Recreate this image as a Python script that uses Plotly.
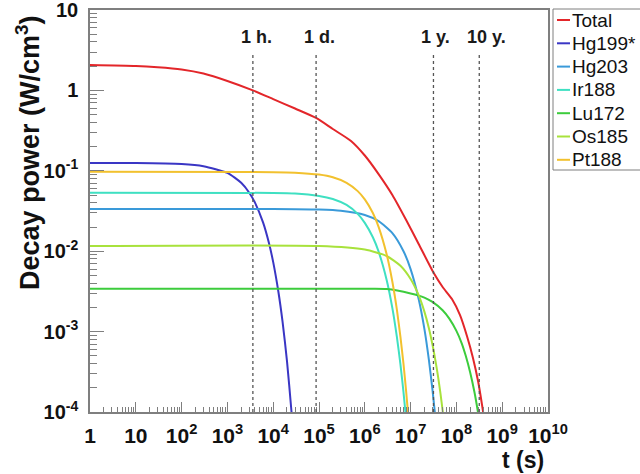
import math
import plotly.graph_objects as go

# ---------------- data ----------------
series_names = ["Total", "Hg199*", "Hg203", "Ir188", "Lu172", "Os185", "Pt188"]
series_colors = ["#e3262a", "#3a36c4", "#3a9ad9", "#3fe0c2", "#3ccc3c", "#a8e23c", "#f2c12e"]

t_total = [1, 10, 30, 100, 300, 1000, 3600, 1e4, 3e4, 8.64e4, 2e5, 5e5, 1e6, 2e6, 4e6,
           8e6, 1.5e7, 3.156e7, 5e7, 8e7, 1.2e8, 1.7e8, 2.3e8, 3e8, 3.6e8, 4.2e8]
p_total = [2.07, 2.01, 1.94, 1.82, 1.62, 1.31, 1.00, 0.78, 0.595, 0.454, 0.331, 0.235,
           0.155, 0.091, 0.050, 0.0244, 0.0123, 0.00543, 0.00359, 0.00254, 0.0016,
           8.8e-4, 4.7e-4, 2.36e-4, 1.26e-4, 7.1e-5]

t_hg199 = [1, 10, 100, 300, 1000, 2000, 3000, 4000, 6000, 8000, 10000, 13000, 16000,
           20000, 25000, 28000]
p_hg199 = [0.125, 0.125, 0.1215, 0.114, 0.0942, 0.0709, 0.0534, 0.0402, 0.0228, 0.0129,
           0.00731, 0.00311, 0.00133, 4.3e-4, 1.03e-4, 4.4e-5]

t_hg203 = [1, 1e4, 1e5, 3e5, 1e6, 2e6, 4e6, 7e6, 1e7, 1.5e7, 2e7, 2.5e7, 3e7, 3.4e7, 3.7e7]
p_hg203 = [0.0335, 0.0335, 0.0329, 0.0318, 0.0282, 0.0237, 0.0168, 0.0100, 0.00599,
           0.00254, 0.00108, 4.5e-4, 1.9e-4, 9.6e-5, 5.7e-5]

t_ir188 = [1, 1e4, 3e4, 1e5, 2e5, 4e5, 7e5, 1e6, 1.5e6, 2e6, 3e6, 4e6, 5e6, 6e6, 7e6,
           8e6, 9e6]
p_ir188 = [0.0535, 0.0531, 0.0523, 0.0487, 0.0446, 0.0376, 0.0291, 0.0225, 0.0149,
           0.0099, 0.00439, 0.00196, 8.7e-4, 3.9e-4, 1.75e-4, 7.9e-5, 3.6e-5]

t_lu172 = [1, 1e5, 1e6, 3e6, 1e7, 2e7, 3e7, 5e7, 7e7, 1e8, 1.3e8, 1.6e8, 2e8, 2.5e8,
           3e8, 3.3e8]
p_lu172 = [0.0034, 0.0034, 0.0034, 0.00338, 0.00298, 0.00265, 0.00234, 0.00184, 0.00145,
           0.00102, 7.2e-4, 5.0e-4, 3.1e-4, 1.72e-4, 9.5e-5, 6.7e-5]

t_os185 = [1, 1e5, 1e6, 3e6, 6e6, 1e7, 1.5e7, 2e7, 2.5e7, 3e7, 3.5e7, 4e7, 4.5e7,
           5e7, 5.5e7]
p_os185 = [0.0116, 0.0116, 0.0105, 0.00872, 0.0066, 0.00452, 0.00284, 0.00177, 0.00111,
           6.9e-4, 4.3e-4, 2.7e-4, 1.68e-4, 1.05e-4, 6.6e-5]

t_pt188 = [1, 1e4, 3e4, 1e5, 2e5, 4e5, 7e5, 1e6, 1.5e6, 2e6, 3e6, 4e6, 5e6, 6e6, 7e6,
           8e6, 9e6, 1e7]
p_pt188 = [0.097, 0.0962, 0.0948, 0.0897, 0.0830, 0.0709, 0.0559, 0.0441, 0.0298, 0.0201,
           0.00915, 0.00417, 0.0019, 8.6e-4, 3.93e-4, 1.79e-4, 8.2e-5, 3.7e-5]

series_t = [t_total, t_hg199, t_hg203, t_ir188, t_lu172, t_os185, t_pt188]
series_p = [p_total, p_hg199, p_hg203, p_ir188, p_lu172, p_os185, p_pt188]

event_labels = ["1 h.", "1 d.", "1 y.", "10 y."]
event_times = [3600, 86400, 3.156e7, 3.156e8]

x_tick_vals = [1, 10, 1e2, 1e3, 1e4, 1e5, 1e6, 1e7, 1e8, 1e9, 1e10]
x_tick_text = ["1", "10", "10<sup>2</sup>", "10<sup>3</sup>", "10<sup>4</sup>",
               "10<sup>5</sup>", "10<sup>6</sup>", "10<sup>7</sup>", "10<sup>8</sup>",
               "10<sup>9</sup>", "10<sup>10</sup>"]
y_tick_vals = [1e-4, 1e-3, 1e-2, 1e-1, 1, 10]
y_tick_text = ["10<sup>-4</sup>", "10<sup>-3</sup>", "10<sup>-2</sup>",
               "10<sup>-1</sup>", "1", "10"]

x_title = "t (s)"
y_title = "Decay power (W/cm<sup>3</sup>)"

# ---------------- figure ----------------
W, H = 640, 474
L, R, T, B = 90, 548, 10, 412          # plot-area pixel box
pw, ph = R - L, B - T

def px_x(p):
    return (p - L) / pw

def px_y(p):
    return (B - p) / ph

FONT = "Liberation Sans, Arial, Helvetica, sans-serif"
GREY = "#7f7f7f"

fig = go.Figure()
for name, col, tt, pp in zip(series_names, series_colors, series_t, series_p):
    fig.add_trace(go.Scatter(
        x=tt, y=pp, mode="lines", name=name, showlegend=False,
        line=dict(color=col, width=2, shape="spline", smoothing=0.6),
    ))

axis_common = dict(
    type="log", showgrid=False, zeroline=False,
    showline=True, linecolor=GREY, linewidth=1.5, mirror=True,
    ticks="inside", tickcolor=GREY, tickwidth=1, tickangle=0,
    tickmode="array",
)

fig.update_xaxes(**axis_common, range=[0, 10], ticklen=10, ticklabelstandoff=4,
                 tickvals=x_tick_vals, ticktext=x_tick_text,
                 tickfont=dict(family=FONT, size=21, color="#111111", weight="bold"),
                 minor=dict(ticks="inside", ticklen=5, tickcolor=GREY, dtick="D1",
                            showgrid=False))
fig.update_yaxes(**axis_common, range=[-4, 1], ticklen=14, ticklabelstandoff=6,
                 tickvals=y_tick_vals, ticktext=y_tick_text,
                 tickfont=dict(family=FONT, size=20, color="#111111", weight="bold"),
                 minor=dict(ticks="inside", ticklen=7, tickcolor=GREY, dtick="D1",
                            showgrid=False))

shapes = []
annotations = []

# event marker lines + labels
for lab, tv in zip(event_labels, event_times):
    shapes.append(dict(type="line", xref="x", yref="paper", x0=tv, x1=tv,
                       y0=0, y1=px_y(52), line=dict(color="#555555", width=1.3, dash="dot")))
    annotations.append(dict(xref="x", yref="paper", x=math.log10(tv), y=px_y(37), text=lab,
                            showarrow=False, xanchor="left", yanchor="middle", xshift=-14,
                            font=dict(family=FONT, size=18, color="#1a1a1a", weight="bold")))

# axis titles
annotations.append(dict(xref="paper", yref="paper", x=px_x(28), y=px_y(153), text=y_title,
                        textangle=-90, showarrow=False, xanchor="center", yanchor="middle",
                        font=dict(family=FONT, size=27, color="#111111", weight="bold")))
annotations.append(dict(xref="paper", yref="paper", x=px_x(546), y=px_y(460), text=x_title,
                        showarrow=False, xanchor="right", yanchor="middle",
                        font=dict(family=FONT, size=23, color="#111111", weight="bold")))

# legend box (drawn like the ROOT legend)
shapes.append(dict(type="rect", xref="paper", yref="paper", x0=px_x(553), x1=px_x(720),
                   y0=px_y(170), y1=px_y(9), line=dict(color=GREY, width=1),
                   fillcolor="white", layer="below"))
for i, (name, col) in enumerate(zip(series_names, series_colors)):
    yy = 20 + 23.3 * i
    shapes.append(dict(type="line", xref="paper", yref="paper", x0=px_x(557), x1=px_x(570),
                       y0=px_y(yy), y1=px_y(yy), line=dict(color=col, width=2)))
    annotations.append(dict(xref="paper", yref="paper", x=px_x(570), y=px_y(yy), text=name,
                            showarrow=False, xanchor="left", yanchor="middle",
                            font=dict(family=FONT, size=19, color="#111111")))

fig.update_layout(
    width=W, height=H,
    margin=dict(l=L, r=W - R, t=T, b=H - B, autoexpand=False),
    paper_bgcolor="white", plot_bgcolor="white",
    shapes=shapes, annotations=annotations,
    showlegend=False,
)

fig.write_html("out.html", config={"displayModeBar": False},
               post_script="document.body.style.margin='0';")
